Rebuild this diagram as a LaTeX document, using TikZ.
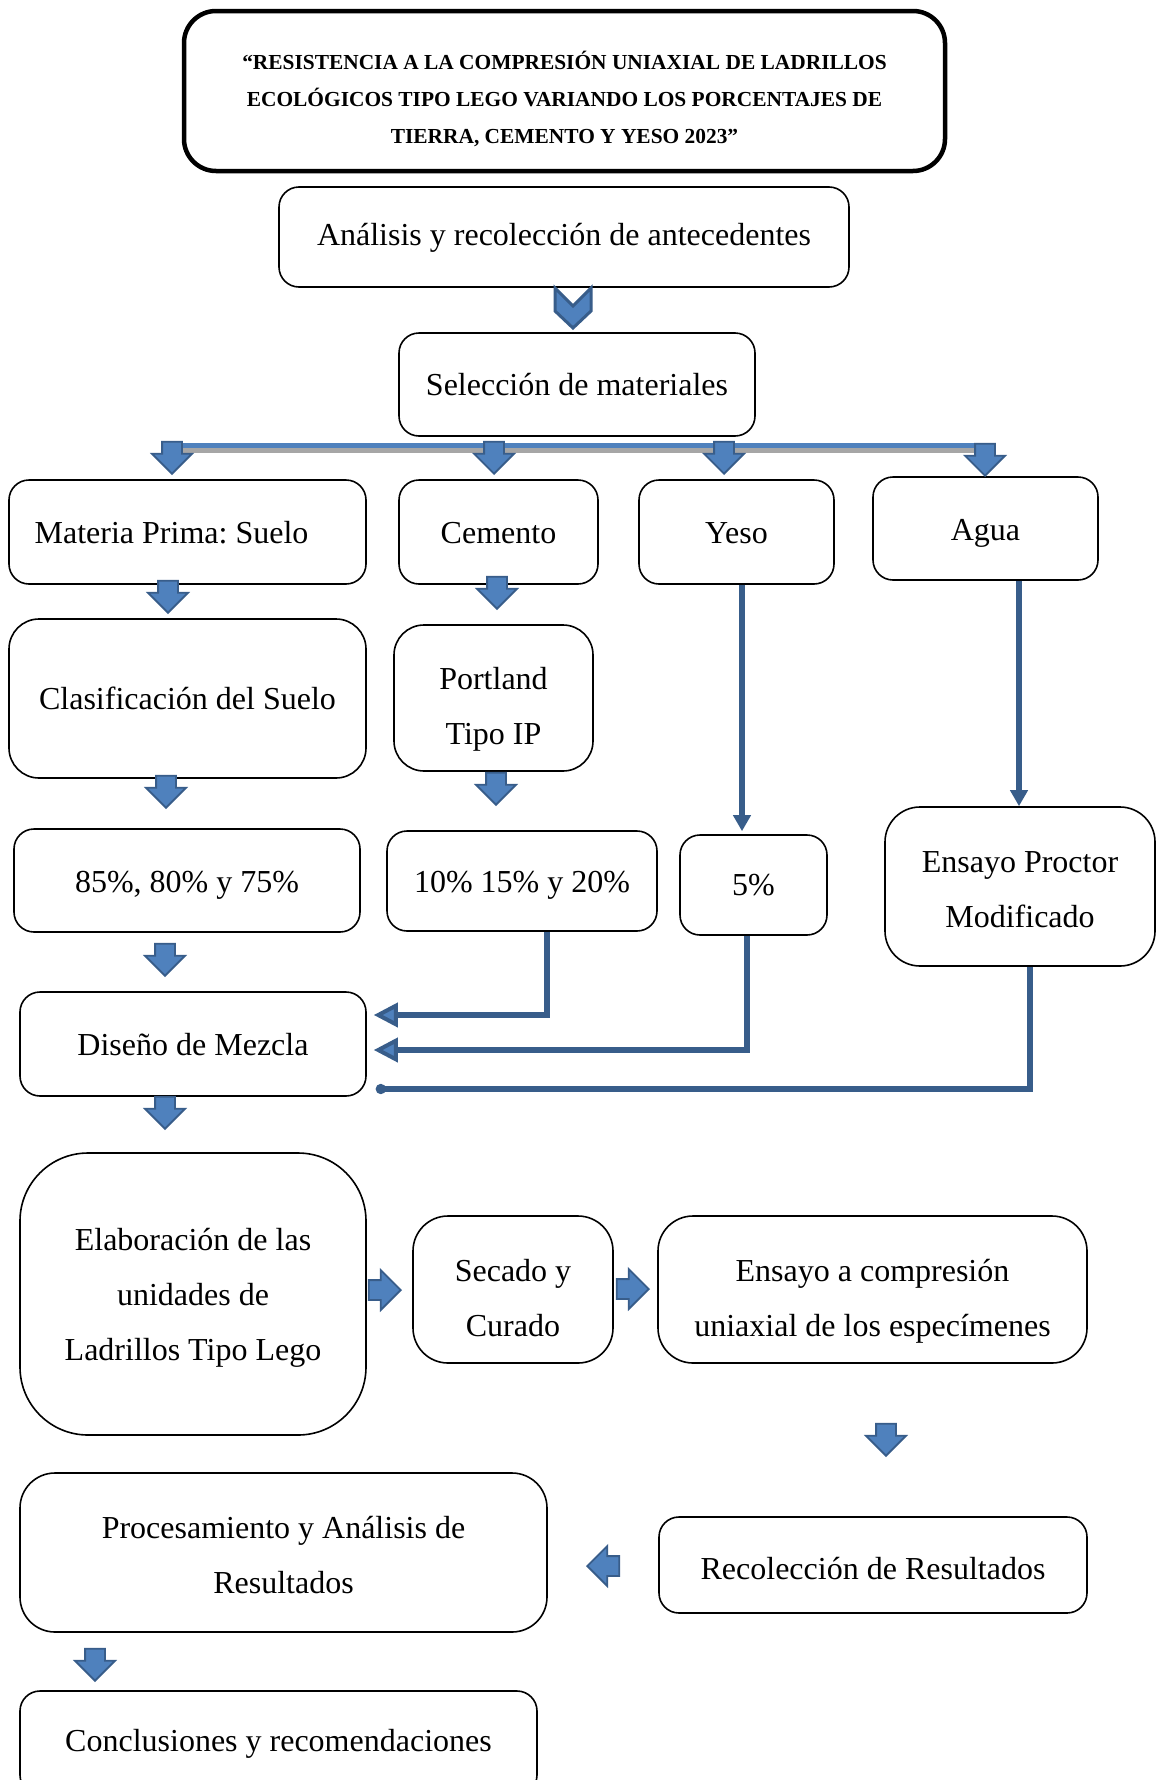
\documentclass[tikz,border=0pt]{standalone}
\usepackage{fontspec}
\setmainfont{Liberation Serif}
\usetikzlibrary{shapes.arrows,arrows.meta}
\definecolor{arrdark}{HTML}{385D8A}
\definecolor{arrlight}{HTML}{4F81BD}
\frenchspacing
\begin{document}
\begin{tikzpicture}[x=1pt,y=-1pt,
  box/.style={draw=black, line width=1.6pt, rounded corners=20pt, inner sep=0pt},
  lbl/.style={align=center, inner sep=0pt, font=\fontsize{32}{55}\selectfont},
  blk/.style={single arrow, draw=arrdark, fill=arrlight, line width=1.8pt,
    minimum height=32pt, minimum width=38pt, single arrow head extend=10pt,
    single arrow tip angle=90, inner xsep=0pt, inner ysep=9pt, anchor=tip},
  thinconn/.style={draw=arrdark, line width=5.5pt, -{Triangle[length=16pt,width=17pt]}},
  thkconn/.style={draw=arrdark, line width=6pt,
    -{Triangle[length=24pt,width=24pt,fill=arrlight,line width=4pt]}},
  dotconn/.style={draw=arrdark, line width=5.5pt, -{Circle[length=10pt]}}
]
\useasboundingbox (0,0) rectangle (1156,1780);
\clip (0,0) rectangle (1156,1780);
\fill[white] (0,0) rectangle (1156,1780);

% title
\node[box, rounded corners=32pt, line width=4.5pt, minimum width=761pt, minimum height=160pt] (title) at (564.5,91) {};
\node[lbl, font=\fontsize{21.4}{37}\selectfont\bfseries, yshift=-7.5pt] (titleT) at (title)
  {“RESISTENCIA A LA COMPRESIÓN UNIAXIAL DE LADRILLOS\\ECOLÓGICOS TIPO LEGO VARIANDO LOS PORCENTAJES DE\\TIERRA, CEMENTO Y YESO 2023”};

\node[box, minimum width=570pt, minimum height=100pt] (anal) at (564,237) {};
\node[lbl, yshift=-1pt] (analT) at (anal) {Análisis y recolección de antecedentes};
\node[box, minimum width=356pt, minimum height=103pt] (sel) at (577,384.5) {};
\node[lbl] (selT) at (sel) {Selección de materiales};

% chevron
\filldraw[draw=arrdark, fill=arrlight, line width=3pt, line join=miter]
  (555,288) -- (573,306) -- (591,288) -- (591,311) -- (573,328) -- (555,311) -- cycle;

\node[box, minimum width=357pt, minimum height=104pt] (mat) at (187.5,532) {};
\node[lbl, xshift=-16pt, yshift=-1pt] (matT) at (mat) {Materia Prima: Suelo};
\node[box, minimum width=199pt, minimum height=104pt] (cem) at (498.5,532) {};
\node[lbl, yshift=-1pt] (cemT) at (cem) {Cemento};
\node[box, minimum width=195pt, minimum height=104pt] (yeso) at (736.5,532) {};
\node[lbl, yshift=-1pt] (yesoT) at (yeso) {Yeso};
\node[box, minimum width=225pt, minimum height=103pt] (agua) at (985.5,528.5) {};
\node[lbl, yshift=-4.5pt] (aguaT) at (agua) {Agua};

\node[box, rounded corners=30pt, minimum width=357pt, minimum height=159pt] (clas) at (187.5,698.5) {};
\node[lbl] (clasT) at (clas) {Clasificación del Suelo};
\node[box, rounded corners=30pt, minimum width=199pt, minimum height=146pt] (port) at (493.5,698) {};
\node[lbl, yshift=-11.4pt] (portT) at (port) {Portland\\Tipo IP};

\node[box, minimum width=346pt, minimum height=103pt] (p85) at (187,880.5) {};
\node[lbl, yshift=-4.5pt] (p85T) at (p85) {85\%, 80\% y 75\%};
\node[box, minimum width=270pt, minimum height=100pt] (p10) at (522,881) {};
\node[lbl, yshift=-4.5pt] (p10T) at (p10) {10\% 15\% y 20\%};
\node[box, minimum width=147pt, minimum height=100pt] (p5) at (753.5,885) {};
\node[lbl] (p5T) at (p5) {5\%};
\node[box, rounded corners=35pt, minimum width=270pt, minimum height=159pt] (proc) at (1020,886.5) {};
\node[lbl, yshift=-3.4pt] (procT) at (proc) {Ensayo Proctor\\Modificado};

\node[box, minimum width=346pt, minimum height=104pt] (dis) at (193,1044) {};
\node[lbl, yshift=-1pt] (disT) at (dis) {Diseño de Mezcla};
\node[box, rounded corners=68pt, minimum width=346pt, minimum height=282pt] (elab) at (193,1294) {};
\node[lbl, yshift=-3.4pt] (elabT) at (elab) {Elaboración de las\\unidades de\\Ladrillos Tipo Lego};
\node[box, rounded corners=35pt, minimum width=200pt, minimum height=147pt] (sec) at (513,1289.5) {};
\node[lbl, yshift=-9pt] (secT) at (sec) {Secado y\\Curado};
\node[box, rounded corners=35pt, minimum width=429pt, minimum height=147pt] (ens) at (872.5,1289.5) {};
\node[lbl, yshift=-11.4pt] (ensT) at (ens) {Ensayo a compresión\\uniaxial de los especímenes};
\node[box, rounded corners=35pt, minimum width=527pt, minimum height=159pt] (pro) at (283.5,1552.5) {};
\node[lbl, yshift=-2.3pt] (proT) at (pro) {Procesamiento y Análisis de\\Resultados};
\node[box, minimum width=428pt, minimum height=96pt] (rec) at (873,1565) {};
\node[lbl, yshift=-3.4pt] (recT) at (rec) {Recolección de Resultados};
\node[box, minimum width=517pt, minimum height=104pt] (con) at (278.5,1743) {};
\node[lbl, yshift=-1pt] (conT) at (con) {Conclusiones y recomendaciones};

% distribution bar
\draw[line width=5pt, black!35] (172,450) -- (985,450);
\draw[line width=5pt, arrlight] (172,445.5) -- (985,445.5);
\node[blk, rotate=-90] (b1) at (172,475) {};
\node[blk, rotate=-90] (b2) at (494,475) {};
\node[blk, rotate=-90] (b3) at (724,475) {};
\node[blk, rotate=-90] (b4) at (985,477) {};

% block arrows
\node[blk, rotate=-90] (a1) at (168,614) {};
\node[blk, rotate=-90] (a2) at (497,610) {};
\node[blk, rotate=-90] (a3) at (166,809) {};
\node[blk, rotate=-90] (a4) at (496,806) {};
\node[blk, rotate=-90] (a5) at (165,977) {};
\node[blk, rotate=-90] (a6) at (165,1130) {};
\node[blk] (a7) at (402,1290) {};
\node[blk] (a8) at (650,1289) {};
\node[blk, rotate=-90] (a9) at (886,1457) {};
\node[blk, rotate=180] (a10) at (586,1566) {};
\node[blk, rotate=-90] (a11) at (95,1682) {};

% connectors
\draw[thinconn] ([xshift=5.5pt]yeso.south) -- ([xshift=5.5pt,yshift=3pt]yeso.south |- p5.north);
\draw[thinconn] ([xshift=33.5pt]agua.south) -- ([xshift=33.5pt]agua.south |- proc.north);
\draw[thkconn] ([xshift=25pt]p10.south) |- ([xshift=7pt,yshift=29pt]dis.east);
\draw[thkconn] ([xshift=-6.5pt]p5.south) |- ([xshift=7pt,yshift=-6pt]dis.east);
\draw[dotconn] ([xshift=10pt]proc.south) |- ([xshift=9pt,yshift=-45pt]dis.east);
\end{tikzpicture}
\end{document}
